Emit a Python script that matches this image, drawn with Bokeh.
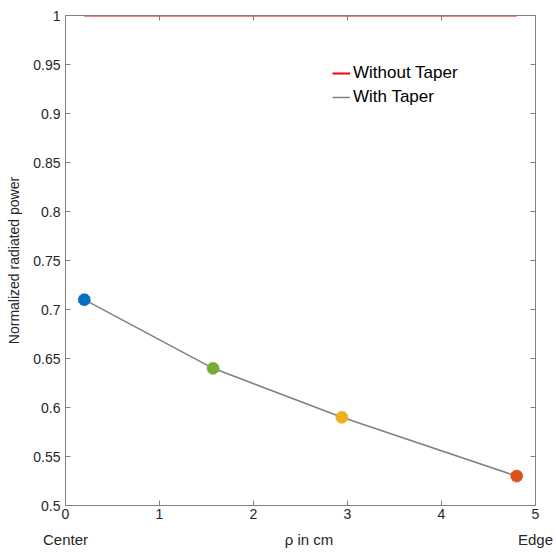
from bokeh.plotting import figure
from bokeh.models import Range1d, LinearAxis, FixedTicker, Legend, LegendItem, ColumnDataSource
from bokeh.embed import file_html
from bokeh.resources import INLINE

rho = [0.2, 1.57, 2.94, 4.8]
taper = [0.71, 0.64, 0.59, 0.53]
marker_colors = ["#0072BD", "#77AC30", "#EDB120", "#D95319"]
no_taper_x = [0.2, 4.8]
no_taper_y = [1.0, 1.0]
x_ticks = [0, 1, 2, 3, 4, 5]
y_ticks = [0.5, 0.55, 0.6, 0.65, 0.7, 0.75, 0.8, 0.85, 0.9, 0.95, 1.0]
y_tick_labels = ["0.5", "0.55", "0.6", "0.65", "0.7", "0.75", "0.8", "0.85", "0.9", "0.95", "1"]
x_caption_pos = [0, 2.59, 5.0]
x_caption_text = ["Center", "ρ in cm", "Edge"]

FONT = "Liberation Sans"
AX = "#262626"

p = figure(width=556, height=553, output_backend="svg", toolbar_location=None,
           x_range=Range1d(0, 5), y_range=Range1d(0.5, 1.0),
           min_border_left=65, min_border_right=21, min_border_top=15, min_border_bottom=48,
           x_axis_location=None, y_axis_location=None)
p.grid.visible = False
p.outline_line_color = "#808080"
p.outline_line_width = 1
p.background_fill_color = "white"
p.border_fill_color = "white"

def style(ax, labels=True):
    ax.axis_line_color = "#808080"
    ax.major_tick_line_color = "#808080"
    ax.major_tick_in = 5
    ax.major_tick_out = 0
    ax.minor_tick_line_color = None
    ax.major_label_text_font = FONT
    ax.major_label_text_font_size = "14px"
    ax.major_label_text_color = AX if labels else None
    ax.axis_label_text_font = FONT
    ax.axis_label_text_font_style = "normal"
    ax.axis_label_text_color = AX

xb = LinearAxis(ticker=FixedTicker(ticks=x_ticks))
style(xb)
xb.major_label_standoff = 3
p.add_layout(xb, "below")

xc = LinearAxis(ticker=FixedTicker(ticks=x_caption_pos),
                major_label_overrides={t: l for t, l in zip(x_caption_pos, x_caption_text)})
style(xc)
xc.axis_line_color = None
xc.major_tick_line_color = None
xc.major_label_text_font_size = "15px"
xc.major_label_standoff = 9
p.add_layout(xc, "below")

xt = LinearAxis(ticker=FixedTicker(ticks=x_ticks))
style(xt, labels=False)
xt.major_label_text_font_size = "0px"
p.add_layout(xt, "above")

yl = LinearAxis(ticker=FixedTicker(ticks=y_ticks),
                major_label_overrides={t: l for t, l in zip(y_ticks, y_tick_labels)})
style(yl)
yl.axis_label = "Normalized radiated power"
yl.axis_label_text_font_size = "14px"
yl.axis_label_standoff = 8
p.add_layout(yl, "left")
yr = LinearAxis(ticker=FixedTicker(ticks=y_ticks))
style(yr, labels=False)
yr.major_label_text_font_size = "0px"
p.add_layout(yr, "right")

r_red = p.line(no_taper_x, no_taper_y, line_color="#FF0000", line_width=2)
r_gray = p.line(rho, taper, line_color="#808080", line_width=1.5)
src = ColumnDataSource(dict(x=rho, y=taper, c=marker_colors))
p.scatter("x", "y", source=src, size=12, fill_color="c", line_color="c",
          line_dash="2 1", line_width=1)

legend = Legend(items=[LegendItem(label="Without Taper", renderers=[r_red]),
                       LegendItem(label="With Taper", renderers=[r_gray])],
                location="top_right")
legend.border_line_color = None
legend.background_fill_alpha = 0
legend.label_text_font = FONT
legend.label_text_font_size = "17px"
legend.label_text_color = "black"
legend.glyph_width = 18
legend.label_standoff = 3
legend.spacing = 2
legend.padding = 0
legend.margin = 0
legend.label_height = 22
legend.glyph_height = 22
p.add_layout(legend, "center")
legend.location = (267, 397)

open("out.html", "w").write(file_html(p, INLINE))
